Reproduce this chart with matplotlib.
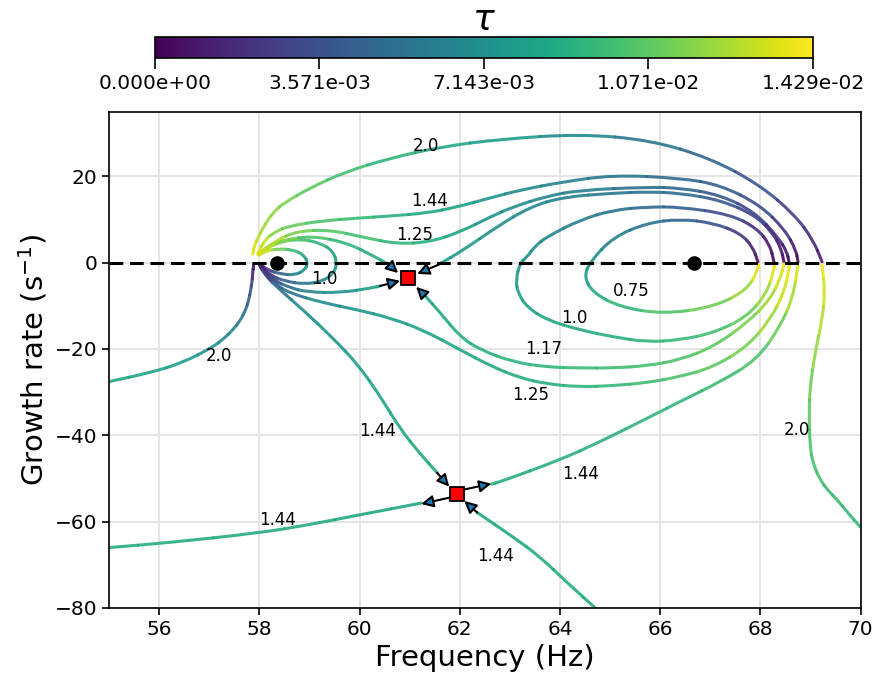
import numpy as np
import matplotlib
matplotlib.use("Agg")
import matplotlib.pyplot as plt
from matplotlib.colors import Normalize
from matplotlib.cm import ScalarMappable
from matplotlib.path import Path
from matplotlib.patches import PathPatch
from matplotlib.ticker import FormatStrFormatter

TAU_MAX = 1.0 / 70

k075_right_f = [67.95, 67.85, 67.60, 67.06, 66.40, 65.74, 65.06, 64.60, 64.48, 64.66, 65.20, 66.06, 67.06, 67.73, 67.95, 67.95]
k075_right_g = [0.2, 3.6, 6.8, 9.2, 10.1, 9.2, 5.9, 0.2, -3.3, -7.0, -10.3, -11.9, -10.3, -6.4, -1.7, -0.3]
k075_right_t = [0.0, 0.08, 0.16, 0.25, 0.32, 0.38, 0.44, 0.5, 0.55, 0.6, 0.66, 0.72, 0.78, 0.85, 0.95, 1.0]

k075_left_f = [58.00, 58.17, 58.41, 58.71, 58.91, 58.97, 58.89, 58.67, 58.37, 58.13, 58.00]
k075_left_g = [-0.3, -1.7, -2.6, -2.9, -1.7, -0.1, 1.8, 3.0, 3.2, 2.7, 1.8]
k075_left_t = [0.0, 0.15, 0.3, 0.42, 0.5, 0.55, 0.6, 0.68, 0.78, 0.9, 1.0]

k100_right_f = [68.27, 68.19, 67.93, 67.39, 66.40, 65.74, 65.06, 64.40, 63.74, 63.51, 63.34, 63.20, 63.12, 63.16, 63.34, 63.74, 64.40, 65.06, 65.74, 66.40, 67.06, 67.73, 68.13, 68.27, 68.27]
k100_right_g = [0.2, 4.1, 8.0, 11.2, 12.9, 12.9, 12.2, 9.9, 6.0, 3.9, 1.3, -0.1, -4.0, -7.0, -10.3, -13.3, -15.6, -17.2, -18.4, -17.9, -16.3, -12.6, -7.0, -1.7, -0.3]
k100_right_t = [0.0, 0.06, 0.13, 0.22, 0.3, 0.34, 0.38, 0.42, 0.46, 0.48, 0.5, 0.52, 0.54, 0.56, 0.57, 0.59, 0.61, 0.63, 0.65, 0.67, 0.7, 0.76, 0.85, 0.95, 1.0]

k100_left_f = [58.00, 58.21, 58.51, 58.91, 59.27, 59.49, 59.55, 59.47, 59.21, 58.81, 58.41, 58.13, 58.00]
k100_left_g = [-0.3, -2.9, -4.3, -5.0, -4.3, -2.4, -0.1, 2.7, 4.6, 5.5, 4.8, 3.2, 1.8]
k100_left_t = [0.0, 0.15, 0.3, 0.4, 0.47, 0.52, 0.56, 0.6, 0.65, 0.7, 0.8, 0.9, 1.0]

k117_a_f = [58.00, 58.27, 58.61, 58.95, 59.61, 60.27, 60.41]
k117_a_g = [-0.3, -4.0, -5.8, -6.8, -7.0, -5.8, -5.4]
k117_a_t = [0.0, 0.2, 0.35, 0.45, 0.5, 0.55, 0.56]

k117_b_f = [57.97, 58.17, 58.49, 59.07, 59.75, 60.27, 60.59]
k117_b_g = [1.8, 3.9, 5.3, 6.2, 4.6, 1.6, -0.5]
k117_b_t = [1.0, 0.88, 0.8, 0.72, 0.66, 0.62, 0.6]

k117_c_f = [68.47, 68.41, 68.23, 67.89, 67.20, 66.40, 65.74, 65.06, 64.06, 63.40, 62.74, 62.07, 61.57]
k117_c_g = [0.2, 3.4, 7.1, 11.0, 14.5, 16.1, 16.4, 16.1, 15.2, 12.9, 8.3, 2.9, -0.5]
k117_c_t = [0.0, 0.06, 0.13, 0.2, 0.28, 0.34, 0.37, 0.4, 0.44, 0.47, 0.5, 0.54, 0.56]

k117_d_f = [61.31, 61.61, 62.01, 62.41, 63.06, 63.74, 64.40, 65.06, 65.74, 66.40, 67.06, 67.73, 68.19, 68.41, 68.47]
k117_d_g = [-7.7, -11.6, -17.2, -20.2, -23.0, -24.2, -24.4, -24.4, -23.9, -22.5, -19.5, -14.0, -8.6, -3.3, -0.3]
k117_d_t = [0.58, 0.6, 0.62, 0.63, 0.65, 0.66, 0.68, 0.69, 0.7, 0.72, 0.75, 0.8, 0.86, 0.93, 1.0]

k125_up_f = [58.01, 58.31, 58.75, 59.41, 60.07, 60.75, 61.41, 62.01, 62.61, 63.06, 63.74, 64.40, 65.74, 66.40, 67.20, 67.89, 68.35, 68.53, 68.57]
k125_up_g = [2.0, 5.0, 7.3, 7.6, 5.9, 4.3, 4.8, 7.1, 10.6, 12.9, 15.4, 16.8, 17.5, 17.3, 15.7, 11.7, 5.9, 2.5, 0.2]
k125_up_t = [0.97, 0.88, 0.8, 0.74, 0.7, 0.66, 0.62, 0.58, 0.53, 0.49, 0.45, 0.42, 0.36, 0.33, 0.28, 0.22, 0.13, 0.06, 0.0]

k125_low_f = [58.00, 58.05, 58.31, 58.59, 59.27, 59.95, 60.61, 61.27, 62.01, 62.61, 63.20, 63.74, 64.40, 65.06, 65.74, 66.40, 67.06, 67.73, 68.19, 68.47, 68.57, 68.57]
k125_low_g = [-0.3, -1.7, -4.9, -7.0, -9.3, -10.9, -12.8, -15.6, -20.2, -23.9, -26.7, -28.1, -28.8, -28.5, -27.8, -26.4, -24.2, -19.5, -13.3, -7.0, -1.7, -0.3]
k125_low_t = [0.0, 0.1, 0.25, 0.38, 0.48, 0.52, 0.55, 0.57, 0.59, 0.6, 0.62, 0.63, 0.65, 0.67, 0.69, 0.72, 0.75, 0.8, 0.86, 0.92, 0.97, 1.0]

k144_up_f = [57.97, 58.11, 58.31, 58.59, 59.27, 59.95, 60.61, 61.35, 61.95, 62.61, 63.20, 64.06, 65.06, 66.40, 67.20, 67.99, 68.49, 68.71, 68.75]
k144_up_g = [2.2, 5.3, 7.1, 8.5, 9.7, 10.3, 10.8, 11.5, 12.9, 15.0, 16.8, 18.7, 20.3, 19.6, 18.0, 13.4, 7.6, 2.9, 0.2]
k144_up_t = [0.97, 0.9, 0.82, 0.77, 0.72, 0.68, 0.64, 0.6, 0.56, 0.52, 0.48, 0.44, 0.4, 0.35, 0.3, 0.24, 0.15, 0.07, 0.0]

k144_low_f = [58.00, 58.11, 58.41, 58.87, 59.47, 59.97, 60.41, 60.81, 61.21, 61.55]
k144_low_g = [-0.3, -2.9, -6.3, -10.9, -17.5, -23.6, -30.9, -38.5, -44.3, -48.7]
k144_low_t = [0.0, 0.2, 0.38, 0.48, 0.53, 0.56, 0.58, 0.59, 0.6, 0.61]

k144_left_f = [55.00, 56.16, 58.01, 59.00, 60.01, 61.23]
k144_left_g = [-66.0, -64.9, -62.6, -60.7, -58.4, -55.7]
k144_left_t = [0.62, 0.62, 0.61, 0.61, 0.6, 0.6]

k144_right_f = [62.63, 62.80, 64.00, 64.80, 65.80, 66.46, 67.20, 67.93, 68.39, 68.65, 68.75]
k144_right_g = [-51.3, -50.8, -45.7, -41.5, -35.7, -31.8, -27.6, -22.5, -14.9, -8.0, -0.5]
k144_right_t = [0.62, 0.62, 0.63, 0.64, 0.65, 0.66, 0.68, 0.72, 0.78, 0.87, 1.0]

k144_bot_f = [62.35, 63.06, 63.60, 64.14, 64.80]
k144_bot_g = [-57.9, -63.5, -68.1, -74.1, -81.0]
k144_bot_t = [0.6, 0.6, 0.61, 0.61, 0.62]

k200_up_f = [57.87, 57.90, 57.97, 58.07, 58.17, 58.31, 58.49, 59.01, 59.71, 60.61, 61.61, 62.80, 64.40, 65.80, 67.00, 67.99, 68.69, 69.05, 69.23]
k200_up_g = [2.0, 3.9, 5.7, 7.9, 9.9, 12.0, 13.8, 17.3, 21.0, 24.2, 26.8, 28.6, 29.8, 28.4, 24.2, 18.0, 11.0, 5.3, 0.2]
k200_up_t = [0.97, 0.94, 0.9, 0.87, 0.85, 0.83, 0.8, 0.75, 0.7, 0.65, 0.6, 0.55, 0.47, 0.4, 0.33, 0.26, 0.19, 0.12, 0.02]

k200_low_f = [57.87, 57.87, 57.85, 57.83, 57.79, 57.73, 57.62, 57.47, 57.29, 57.08, 56.47, 55.82, 54.98]
k200_low_g = [-0.1, -2.9, -4.6, -6.3, -8.6, -10.9, -13.4, -15.6, -17.6, -19.5, -23.2, -25.5, -27.6]
k200_low_t = [0.0, 0.1, 0.18, 0.25, 0.3, 0.35, 0.4, 0.45, 0.48, 0.5, 0.55, 0.58, 0.6]

k200_right_f = [69.23, 69.29, 69.23, 69.09, 68.99, 68.97, 68.99, 69.05, 69.19, 69.35, 69.53, 69.75, 69.99]
k200_right_g = [-0.5, -7.0, -13.3, -20.9, -28.8, -34.8, -42.7, -46.5, -50.3, -52.8, -54.9, -58.0, -61.2]
k200_right_t = [1.0, 0.93, 0.88, 0.83, 0.78, 0.75, 0.72, 0.71, 0.7, 0.69, 0.68, 0.67, 0.67]

# equilibria (black) and double roots (red)
dot_f = [58.35, 66.68]
dot_g = [0.0, 0.0]
sq_f = [60.97, 61.95]
sq_g = [-3.6, -53.6]

# direction arrows: (tail f, tail g, head f, head g)
arrows = [
    (60.41, -5.4, 60.81, -4.2), (60.59, -0.5, 60.77, -2.4),
    (61.57, -0.5, 61.15, -2.6), (61.31, -7.7, 61.13, -5.6),
    (61.55, -48.7, 61.79, -51.9), (62.07, -52.6, 62.63, -51.2),
    (61.81, -54.4, 61.23, -55.9), (62.35, -57.9, 62.09, -55.2),
]

label_f = [61.32, 61.40, 61.10, 59.30, 65.42, 64.28, 63.68, 63.42, 57.20, 60.35, 64.42, 68.72, 58.36, 62.72]
label_g = [27.0, 14.3, 6.5, -3.7, -6.5, -12.9, -20.1, -30.7, -21.7, -39.0, -49.0, -38.8, -59.6, -67.9]
label_txt = ["2.0", "1.44", "1.25", "1.0", "0.75", "1.0", "1.17", "1.25", "2.0", "1.44", "1.44", "2.0", "1.44", "1.44"]

branches = [
    (k075_right_f, k075_right_g, k075_right_t), (k075_left_f, k075_left_g, k075_left_t),
    (k100_right_f, k100_right_g, k100_right_t), (k100_left_f, k100_left_g, k100_left_t),
    (k117_a_f, k117_a_g, k117_a_t), (k117_b_f, k117_b_g, k117_b_t),
    (k117_c_f, k117_c_g, k117_c_t), (k117_d_f, k117_d_g, k117_d_t),
    (k125_up_f, k125_up_g, k125_up_t), (k125_low_f, k125_low_g, k125_low_t),
    (k144_up_f, k144_up_g, k144_up_t), (k144_low_f, k144_low_g, k144_low_t),
    (k144_left_f, k144_left_g, k144_left_t), (k144_right_f, k144_right_g, k144_right_t),
    (k144_bot_f, k144_bot_g, k144_bot_t),
    (k200_up_f, k200_up_g, k200_up_t), (k200_low_f, k200_low_g, k200_low_t),
    (k200_right_f, k200_right_g, k200_right_t),
]

norm = Normalize(0, TAU_MAX)
cmap = plt.get_cmap("viridis")


def draw_branch(ax, f, g, t):
    # read points act as quadratic Bezier controls, so the path comes out smooth
    p = np.column_stack([f, g])
    tt = np.asarray(t) * TAU_MAX
    m = (p[:-1] + p[1:]) / 2
    pieces = [(Path([p[0], m[0]], [Path.MOVETO, Path.LINETO]), (tt[0] + tt[1]) / 2)]
    for i in range(1, len(p) - 1):
        pieces.append((Path([m[i - 1], p[i], m[i]], [Path.MOVETO, Path.CURVE3, Path.CURVE3]), tt[i]))
    pieces.append((Path([m[-1], p[-1]], [Path.MOVETO, Path.LINETO]), (tt[-2] + tt[-1]) / 2))
    for path, tau in pieces:
        ax.add_patch(PathPatch(path, fill=False, edgecolor=cmap(norm(tau)), lw=2.2,
                               alpha=0.9, capstyle="round", zorder=2))


fig = plt.figure(figsize=(8.74, 6.81), dpi=100)
ax = fig.add_axes([0.1247, 0.1072, 0.8600, 0.7290])

for f, g, t in branches:
    draw_branch(ax, f, g, t)

ax.axhline(0, color="k", ls="--", lw=2.2, dashes=(4.5, 2.2), zorder=3)

for tf, tg, hf, hg in arrows:
    ax.annotate("", xy=(hf, hg), xytext=(tf, tg),
                arrowprops=dict(arrowstyle="-|>", mutation_scale=18, fc="tab:blue",
                                ec="k", lw=1.5, shrinkA=0, shrinkB=0), zorder=4)

ax.plot(dot_f, dot_g, "o", color="k", ms=9.5, zorder=5)
ax.plot(sq_f, sq_g, "s", color="red", mec="k", mew=1.3, ms=10.5, zorder=6)

for x, y, s in zip(label_f, label_g, label_txt):
    ax.text(x, y, s, fontsize=12, ha="center", va="center", zorder=7)

ax.set_xlim(55, 70)
ax.set_ylim(-80, 35)
ax.set_xticks(np.arange(56, 71, 2))
ax.set_yticks(np.arange(-80, 21, 20))
ax.grid(True, color="#e3e3e3", lw=1.3)
ax.set_axisbelow(True)
ax.tick_params(labelsize=14.5, width=1.2, length=5)
for sp in ax.spines.values():
    sp.set_linewidth(1.2)
ax.set_xlabel("Frequency (Hz)", fontsize=21)
ax.set_ylabel("Growth rate (s$^{-1}$)", fontsize=21)

cax = fig.add_axes([0.1773, 0.9148, 0.7529, 0.0308])
cb = fig.colorbar(ScalarMappable(norm=norm, cmap=cmap), cax=cax, orientation="horizontal",
                  ticks=np.linspace(0, TAU_MAX, 5))
cb.ax.xaxis.set_major_formatter(FormatStrFormatter("%.3e"))
cb.ax.tick_params(labelsize=14.5, length=8, width=1.2)
cb.outline.set_linewidth(1.2)
cb.ax.set_title(r"$\tau$", fontsize=26, pad=4)

fig.savefig("out.png", dpi=100)
